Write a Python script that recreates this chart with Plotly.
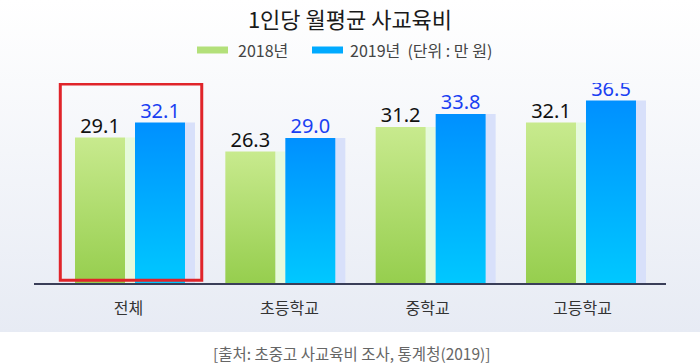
import base64
import plotly.graph_objects as go

# ---- data ----
categories = ["전체", "초등학교", "중학교", "고등학교"]
series_names = ["2018년", "2019년"]
values_2018 = [29.1, 26.3, 31.2, 32.1]
values_2019 = [32.1, 29.0, 33.8, 36.5]
title_text = "1인당 월평균 사교육비"
unit_text = "(단위 : 만 원)"
source_text = "[출처: 초중고 사교육비 조사, 통계청(2019)]"

# ---- style / geometry ----
W, H = 700, 363
ML, MR, MT, MB = 34, 34, 83, 80
PW = W - ML - MR
PH = H - MT - MB
UNIT = 150.33                      # px per category step
X_RANGE = [(ML - 135) / UNIT, (W - MR - 135) / UNIT]
Y_RANGE = [0, 40]
BAR_W = 50 / UNIT
SHADOW_W = 10 / UNIT
GREEN_OFF = -60 / UNIT
BLUE_OFF = 0.0
TICK_POS_SHIFT = [-0.043, 1.028 - 1, 1.946 - 2, 2.977 - 3]

GREEN_TOP, GREEN_BOT = "#C8EA8E", "#96CE4E"
BLUE_TOP, BLUE_BOT = "#0090FF", "#00C8FF"
GREEN_SHADOW, BLUE_SHADOW = "#E6FADC", "#D8E0FA"
GREEN_LEG, BLUE_LEG = "#B3E07A", "#00AAFF"
KFONT = "Noto Sans CJK KR, Noto Sans, sans-serif"
NFONT = "Noto Sans, Noto Sans CJK KR, sans-serif"


def px_to_paper_x(px):
    return (px - ML) / PW


def px_to_paper_y(py):
    return (H - MB - py) / PH


fig = go.Figure()
idx = list(range(len(categories)))

# shadow bars (light strips to the right of each bar)
fig.add_trace(go.Bar(x=idx, y=values_2018, width=[SHADOW_W] * 4,
                     offset=[GREEN_OFF + BAR_W] * 4,
                     marker=dict(color=GREEN_SHADOW, line=dict(width=0)),
                     showlegend=False, hoverinfo="skip"))
fig.add_trace(go.Bar(x=idx, y=values_2019, width=[SHADOW_W] * 4,
                     offset=[BLUE_OFF + BAR_W] * 4,
                     marker=dict(color=BLUE_SHADOW, line=dict(width=0)),
                     showlegend=False, hoverinfo="skip"))

# main bars with vertical gradients
for vals, off, top, bot, name in [
    (values_2018, GREEN_OFF, GREEN_TOP, GREEN_BOT, series_names[0]),
    (values_2019, BLUE_OFF, BLUE_TOP, BLUE_BOT, series_names[1]),
]:
    for i, v in zip(idx, vals):
        x0, x1 = i + off, i + off + BAR_W
        fig.add_trace(go.Scatter(
            x=[x0, x1, x1, x0, x0], y=[0, 0, v, v, 0],
            mode="lines", line=dict(width=0), fill="toself",
            fillgradient=dict(type="vertical", start=0, stop=v,
                              colorscale=[[0, bot], [1, top]]),
            name=name, showlegend=False, hoverinfo="skip"))

# value labels
fig.add_trace(go.Scatter(
    x=[i + GREEN_OFF + BAR_W / 2 for i in idx], y=values_2018,
    mode="text", text=[f"{v:.1f}" for v in values_2018],
    textposition="top center",
    textfont=dict(family=NFONT, size=20, color="#111111"),
    showlegend=False, hoverinfo="skip"))
fig.add_trace(go.Scatter(
    x=[i + BLUE_OFF + BAR_W / 2 for i in idx], y=values_2019,
    mode="text", text=[f"{v:.1f}" for v in values_2019],
    textposition="top center",
    textfont=dict(family=NFONT, size=20, color="#1A3FF2"),
    showlegend=False, hoverinfo="skip"))

# background gradient image
svg = ('<svg xmlns="http://www.w3.org/2000/svg" width="700" height="332" '
       'preserveAspectRatio="none"><defs><linearGradient id="g" x1="0" y1="0" '
       'x2="0" y2="1"><stop offset="0" stop-color="#ffffff"/>'
       '<stop offset="1" stop-color="#e7ebf4"/></linearGradient></defs>'
       '<rect width="700" height="332" fill="url(#g)"/></svg>')
src = "data:image/svg+xml;base64," + base64.b64encode(svg.encode()).decode()

shapes = [
    # highlight box around the first group
    dict(type="rect", xref="x", yref="y", x0=-0.497, x1=0.444, y0=0.56, y1=39.8,
         line=dict(color="#E0242A", width=3), fillcolor="rgba(0,0,0,0)",
         layer="above"),
    # legend swatches
    dict(type="rect", xref="paper", yref="paper",
         x0=px_to_paper_x(197), x1=px_to_paper_x(228),
         y0=px_to_paper_y(53.5), y1=px_to_paper_y(46.5),
         fillcolor=GREEN_LEG, line=dict(width=0)),
    dict(type="rect", xref="paper", yref="paper",
         x0=px_to_paper_x(312), x1=px_to_paper_x(343),
         y0=px_to_paper_y(53.5), y1=px_to_paper_y(46.5),
         fillcolor=BLUE_LEG, line=dict(width=0)),
]

annotations = [
    dict(text=series_names[0], xref="paper", yref="paper",
         x=px_to_paper_x(236), y=px_to_paper_y(50), xanchor="left",
         yanchor="middle", showarrow=False,
         font=dict(family=KFONT, size=16, color="#444444")),
    dict(text=series_names[1] + "  " + unit_text, xref="paper", yref="paper",
         x=px_to_paper_x(348), y=px_to_paper_y(50), xanchor="left",
         yanchor="middle", showarrow=False,
         font=dict(family=KFONT, size=16, color="#444444")),
    dict(text=source_text, xref="paper", yref="paper",
         x=px_to_paper_x(352), y=px_to_paper_y(353), xanchor="center",
         yanchor="middle", showarrow=False,
         font=dict(family=KFONT, size=15.5, color="#666666")),
]

fig.update_layout(
    width=W, height=H,
    margin=dict(l=ML, r=MR, t=MT, b=MB, pad=0),
    paper_bgcolor="white",
    plot_bgcolor="rgba(0,0,0,0)",
    title=dict(text=title_text, x=0.5, xanchor="center", xref="paper",
               y=1 - 20 / H, yref="container", yanchor="middle",
               font=dict(family=KFONT, size=22, color="#1A1A1A")),
    barmode="overlay",
    showlegend=False,
    images=[dict(source=src, xref="paper", yref="paper",
                 x=px_to_paper_x(0), y=px_to_paper_y(0),
                 sizex=W / PW, sizey=332 / PH, xanchor="left", yanchor="top",
                 sizing="stretch", layer="below")],
    shapes=shapes,
    annotations=annotations,
    xaxis=dict(range=X_RANGE, showgrid=False, zeroline=False,
               showline=True, linecolor="#3A3E58", linewidth=1.5,
               tickmode="array",
               tickvals=[i + s for i, s in zip(idx, TICK_POS_SHIFT)],
               ticktext=categories, ticks="", ticklabelstandoff=10,
               tickfont=dict(family=KFONT, size=16, color="#333333"),
               fixedrange=True),
    yaxis=dict(range=Y_RANGE, visible=False, showgrid=False, zeroline=False,
               fixedrange=True),
)

fig.write_html("out.html",
               config={"displayModeBar": False, "staticPlot": True},
               post_script="document.body.style.margin='0';"
                           "document.body.style.overflow='hidden';")
